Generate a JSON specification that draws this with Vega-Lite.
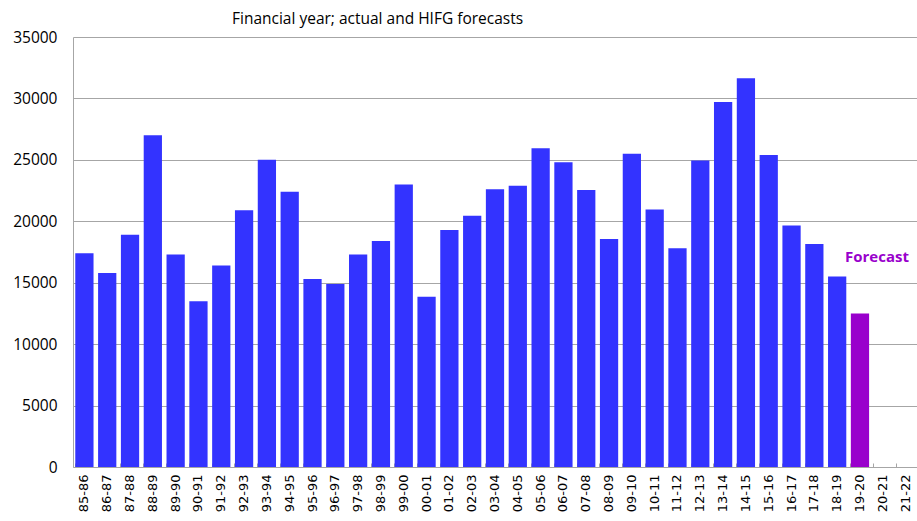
{
  "$schema": "https://vega.github.io/schema/vega-lite/v6.json",
  "autosize": "none",
  "width": 844,
  "height": 430,
  "padding": {"left": 73, "top": 37, "right": 0, "bottom": 54},
  "background": "white",
  "title": {
    "text": "Financial year; actual and HIFG forecasts",
    "anchor": "start",
    "frame": "group",
    "dx": 159,
    "offset": 3,
    "font": "Open Sans",
    "fontSize": 15.5,
    "fontWeight": "normal",
    "color": "#000000"
  },
  "data": {
    "values": [
      {"year": "85-86", "value": 17400, "type": "Actual"},
      {"year": "86-87", "value": 15800, "type": "Actual"},
      {"year": "87-88", "value": 18900, "type": "Actual"},
      {"year": "88-89", "value": 27000, "type": "Actual"},
      {"year": "89-90", "value": 17300, "type": "Actual"},
      {"year": "90-91", "value": 13500, "type": "Actual"},
      {"year": "91-92", "value": 16400, "type": "Actual"},
      {"year": "92-93", "value": 20900, "type": "Actual"},
      {"year": "93-94", "value": 25000, "type": "Actual"},
      {"year": "94-95", "value": 22400, "type": "Actual"},
      {"year": "95-96", "value": 15300, "type": "Actual"},
      {"year": "96-97", "value": 14900, "type": "Actual"},
      {"year": "97-98", "value": 17300, "type": "Actual"},
      {"year": "98-99", "value": 18400, "type": "Actual"},
      {"year": "99-00", "value": 23000, "type": "Actual"},
      {"year": "00-01", "value": 13850, "type": "Actual"},
      {"year": "01-02", "value": 19300, "type": "Actual"},
      {"year": "02-03", "value": 20450, "type": "Actual"},
      {"year": "03-04", "value": 22600, "type": "Actual"},
      {"year": "04-05", "value": 22900, "type": "Actual"},
      {"year": "05-06", "value": 25950, "type": "Actual"},
      {"year": "06-07", "value": 24800, "type": "Actual"},
      {"year": "07-08", "value": 22550, "type": "Actual"},
      {"year": "08-09", "value": 18550, "type": "Actual"},
      {"year": "09-10", "value": 25500, "type": "Actual"},
      {"year": "10-11", "value": 20950, "type": "Actual"},
      {"year": "11-12", "value": 17800, "type": "Actual"},
      {"year": "12-13", "value": 24950, "type": "Actual"},
      {"year": "13-14", "value": 29700, "type": "Actual"},
      {"year": "14-15", "value": 31650, "type": "Actual"},
      {"year": "15-16", "value": 25400, "type": "Actual"},
      {"year": "16-17", "value": 19650, "type": "Actual"},
      {"year": "17-18", "value": 18150, "type": "Actual"},
      {"year": "18-19", "value": 15500, "type": "Actual"},
      {"year": "19-20", "value": 12500, "type": "Forecast"},
      {"year": "20-21", "value": null, "type": "Forecast"},
      {"year": "21-22", "value": null, "type": "Forecast"}
    ]
  },
  "layer": [
    {
      "mark": {"type": "bar"},
      "encoding": {
        "x": {
          "field": "year",
          "type": "nominal",
          "sort": null,
          "scale": {
            "domain": ["85-86","86-87","87-88","88-89","89-90","90-91","91-92","92-93","93-94","94-95","95-96","96-97","97-98","98-99","99-00","00-01","01-02","02-03","03-04","04-05","05-06","06-07","07-08","08-09","09-10","10-11","11-12","12-13","13-14","14-15","15-16","16-17","17-18","18-19","19-20","20-21","21-22"],
            "paddingInner": 0.2,
            "paddingOuter": 0.1
          },
          "axis": {
            "title": null,
            "labelAngle": -90,
            "labelFont": "DejaVu Sans",
            "labelFontSize": 13,
            "labelColor": "#000000",
            "labelPadding": 11,
            "bandPosition": 0,
            "tickSize": -4,
            "tickColor": "#A6A6A6",
            "domainColor": "#A6A6A6",
            "grid": false
          }
        },
        "y": {
          "field": "value",
          "type": "quantitative",
          "scale": {"domain": [0, 35000], "nice": false},
          "axis": {
            "title": null,
            "values": [0, 5000, 10000, 15000, 20000, 25000, 30000, 35000],
            "format": "d",
            "labelFont": "Open Sans",
            "labelFontSize": 15.5,
            "labelColor": "#000000",
            "labelPadding": 16,
            "ticks": false,
            "domainColor": "#A6A6A6",
            "gridColor": "#A6A6A6",
            "gridWidth": 1
          }
        },
        "color": {
          "field": "type",
          "type": "nominal",
          "scale": {"domain": ["Actual", "Forecast"], "range": ["#3333FF", "#9900CC"]},
          "legend": null
        }
      }
    },
    {
      "data": {"values": [{"year": "19-20", "value": 17100, "label": "Forecast"}]},
      "mark": {
        "type": "text",
        "align": "left",
        "baseline": "middle",
        "dx": -15,
        "font": "Open Sans",
        "fontSize": 15,
        "fontWeight": "bold",
        "color": "#9900CC"
      },
      "encoding": {
        "x": {"field": "year", "type": "nominal", "sort": null},
        "y": {"field": "value", "type": "quantitative"},
        "text": {"field": "label"}
      }
    }
  ],
  "config": {
    "view": {"stroke": null}
  }
}
